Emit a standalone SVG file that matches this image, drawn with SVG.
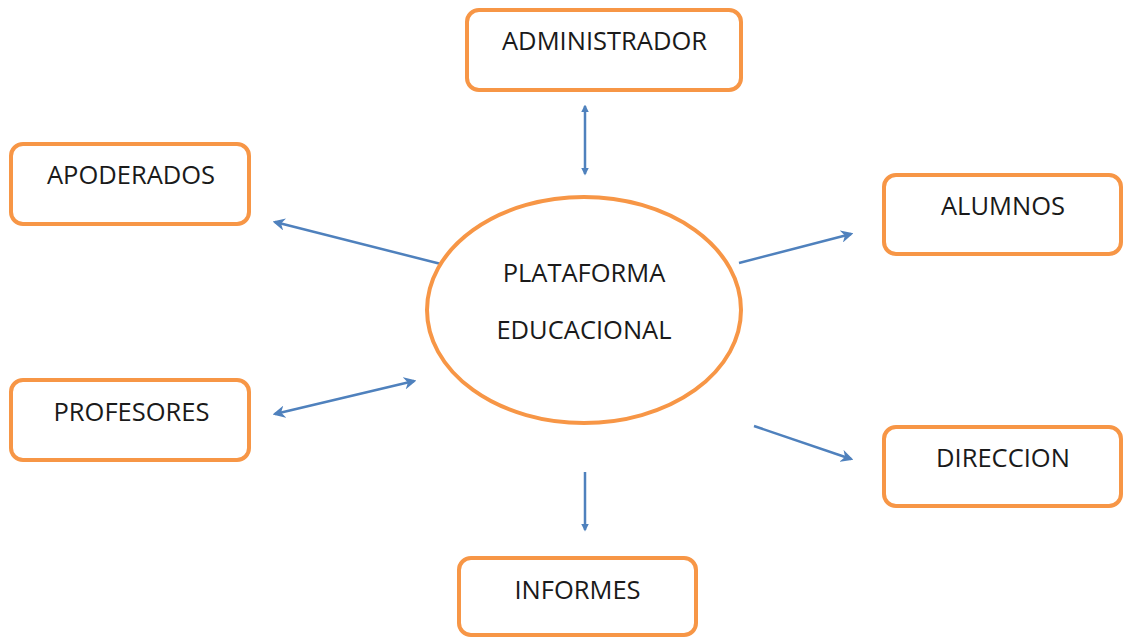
<svg xmlns="http://www.w3.org/2000/svg" width="1123" height="637" viewBox="0 0 1123 637">
<style>
.box{fill:#fff;stroke:#F79646;stroke-width:4}
.t{font-family:"Open Sans","Liberation Sans",sans-serif;font-size:25.5px;fill:#1a1a1a;text-anchor:middle}
.c{stroke:#4F81BD;stroke-width:2.5;fill:none}
</style>
<defs>
<marker id="ah" viewBox="0 0 10 10" refX="8" refY="5" markerWidth="5" markerHeight="5" orient="auto-start-reverse" markerUnits="strokeWidth">
<path d="M0,0 L10,5 L0,10 L3,5 Z" fill="#4F81BD"/>
</marker>
<marker id="sh" viewBox="0 0 10 10" refX="8" refY="5" markerWidth="3" markerHeight="3" orient="auto-start-reverse" markerUnits="strokeWidth">
<path d="M0,0 L10,5 L0,10 Z" fill="#4F81BD"/>
</marker>
</defs>
<rect width="1123" height="637" fill="#fff"/>
<g id="connectors">
<line class="c" x1="585" y1="106" x2="585" y2="174" marker-start="url(#sh)" marker-end="url(#sh)"/>
<line class="c" x1="441" y1="264" x2="275" y2="222" marker-end="url(#ah)"/>
<line class="c" x1="275" y1="414" x2="414" y2="381" marker-start="url(#ah)" marker-end="url(#ah)"/>
<line class="c" x1="739" y1="263" x2="851" y2="234" marker-end="url(#ah)"/>
<line class="c" x1="754" y1="426" x2="851" y2="459" marker-end="url(#ah)"/>
<line class="c" x1="585" y1="472" x2="585" y2="530" marker-end="url(#sh)"/>
</g>
<g id="center">
<ellipse cx="584" cy="310" rx="157" ry="113" fill="#fff" stroke="#F79646" stroke-width="4"/>
<text class="t" x="584" y="282">PLATAFORMA</text>
<text class="t" x="584" y="339">EDUCACIONAL</text>
</g>
<g id="administrador"><rect class="box" x="467" y="10" width="274" height="80" rx="12"/><text class="t" x="604.5" y="50">ADMINISTRADOR</text></g>
<g id="apoderados"><rect class="box" x="11" y="144" width="238" height="80" rx="12"/><text class="t" x="131" y="184">APODERADOS</text></g>
<g id="alumnos"><rect class="box" x="884" y="175" width="237" height="79" rx="12"/><text class="t" x="1003" y="215">ALUMNOS</text></g>
<g id="profesores"><rect class="box" x="11" y="380" width="238" height="80" rx="12"/><text class="t" x="131.5" y="421">PROFESORES</text></g>
<g id="direccion"><rect class="box" x="884" y="427" width="237" height="79" rx="12"/><text class="t" x="1003" y="467">DIRECCION</text></g>
<g id="informes"><rect class="box" x="459" y="558" width="237" height="77" rx="12"/><text class="t" x="577.5" y="599">INFORMES</text></g>
</svg>
